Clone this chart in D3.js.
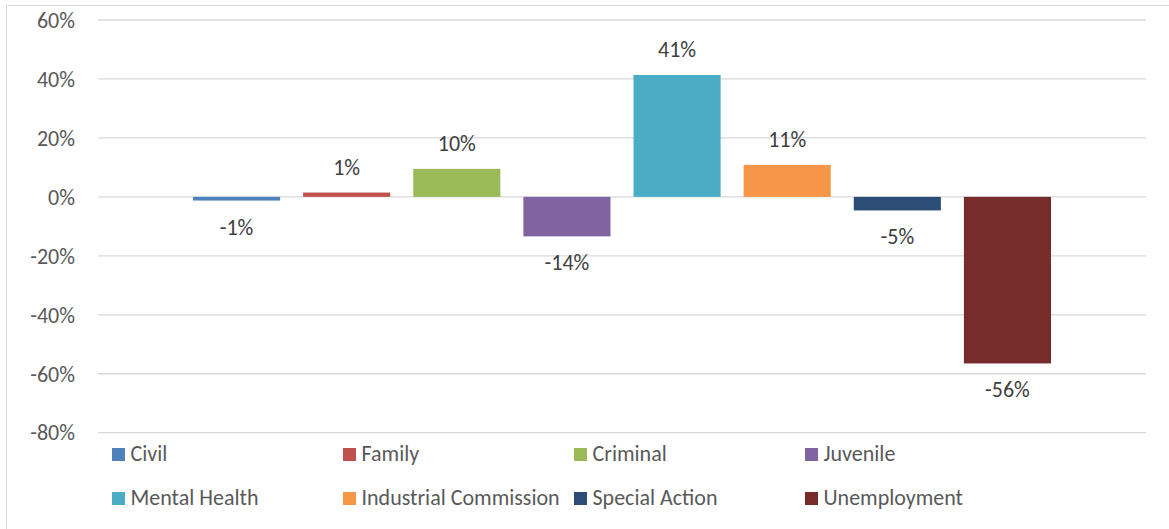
<!DOCTYPE html>
<html>
<head>
<meta charset="utf-8">
<script src="https://cdn.jsdelivr.net/npm/d3@7"></script>
<style>
  body { margin: 0; background: #fff; }
  svg { display: block; font-family: Carlito, Lato, "Liberation Sans", sans-serif; }
</style>
</head>
<body>
<svg id="chart" width="1169" height="529"></svg>
<script>
const series = ["Civil", "Family", "Criminal", "Juvenile", "Mental Health", "Industrial Commission", "Special Action", "Unemployment"];
const values = [-0.0125, 0.0146, 0.095, -0.134, 0.4136, 0.1085, -0.046, -0.565];
const labels = ["-1%", "1%", "10%", "-14%", "41%", "11%", "-5%", "-56%"];
const colors = ["#4F81BD", "#C0504D", "#9BBB59", "#8064A2", "#4BACC6", "#F79646", "#2C4D75", "#772C2A"];
const yTicks = [-0.8, -0.6, -0.4, -0.2, 0, 0.2, 0.4, 0.6];

const FS = 22;
const svg = d3.select("#chart");

// chart border (left and top visible)
svg.append("rect").attr("x", 6.5).attr("y", 5.5).attr("width", 1180).attr("height", 540)
  .attr("fill", "none").attr("stroke", "#d9d9d9").attr("stroke-width", 1);

const y = d3.scaleLinear().domain([-0.8, 0.6]).range([432.7, 20]);
const x = d3.scaleBand().domain(series).range([193, 1051]).paddingInner(23 / 110).paddingOuter(0);
const gridX0 = 98, gridX1 = 1146;

// gridlines
svg.append("g").selectAll("line").data(yTicks).join("line")
  .attr("x1", gridX0).attr("x2", gridX1)
  .attr("y1", d => y(d)).attr("y2", d => y(d))
  .attr("stroke", "#d9d9d9").attr("stroke-width", 1.3);

// y axis labels
const loc = d3.formatLocale({decimal: ".", thousands: ",", grouping: [3], currency: ["", ""], minus: "-"});
const yAxis = d3.axisLeft(y).tickValues(yTicks).tickFormat(loc.format(".0%")).tickSize(0).tickPadding(0);
const yg = svg.append("g").attr("transform", "translate(75,0)").call(yAxis);
yg.select(".domain").remove();
yg.selectAll("text").attr("fill", "#595959").attr("font-size", FS)
  .attr("font-family", "Carlito, Lato, 'Liberation Sans', sans-serif")
  .attr("dy", "0.33em");

// bars
svg.append("g").selectAll("rect").data(series).join("rect")
  .attr("x", d => x(d))
  .attr("width", x.bandwidth())
  .attr("y", (d, i) => Math.min(y(values[i]), y(0)))
  .attr("height", (d, i) => Math.abs(y(values[i]) - y(0)))
  .attr("fill", (d, i) => colors[i]);

// data labels
svg.append("g").selectAll("text").data(series).join("text")
  .attr("x", d => x(d) + x.bandwidth() / 2)
  .attr("y", (d, i) => values[i] >= 0 ? y(values[i]) - 18 : y(values[i]) + 34)
  .attr("text-anchor", "middle")
  .attr("fill", "#404040").attr("font-size", FS)
  .text((d, i) => labels[i]);

// legend
const legend = svg.append("g");
const colW = 231, legX0 = 112, rowY = [461, 505];
series.forEach((s, i) => {
  const col = i % 4, row = Math.floor(i / 4);
  const gx = legX0 + col * colW;
  legend.append("rect").attr("x", gx).attr("y", rowY[row] - 13).attr("width", 13).attr("height", 13)
    .attr("fill", colors[i]);
  legend.append("text").attr("x", gx + 18.5).attr("y", rowY[row])
    .attr("fill", "#595959").attr("font-size", FS).text(s);
});
</script>
</body>
</html>
